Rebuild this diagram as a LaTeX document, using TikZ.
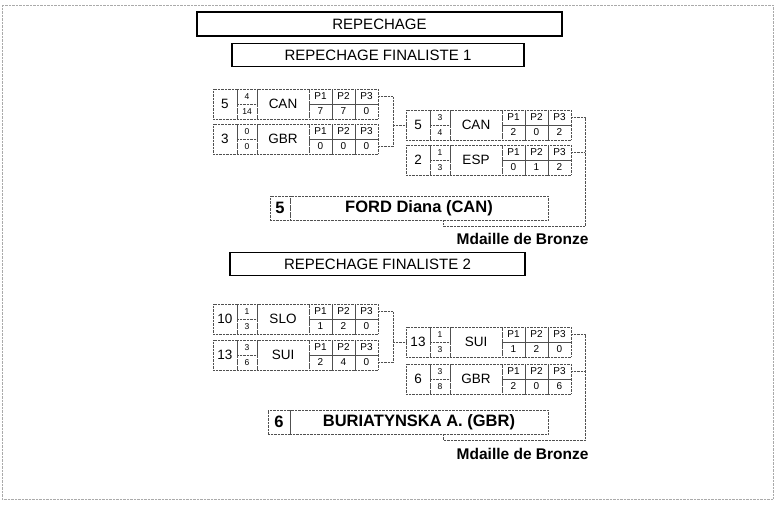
\documentclass[tikz,border=0pt]{standalone}
\usepackage{fontspec}
\setmainfont{Liberation Sans}
\usetikzlibrary{positioning,arrows.meta}
\definecolor{cellgray}{RGB}{80,80,80}
\definecolor{framegray}{RGB}{170,170,170}

\begin{document}
\begin{tikzpicture}[x=1pt,y=-1pt,
  title/.style={draw=black, line width=1.2pt, inner sep=0pt,
    font=\fontsize{15}{16}\selectfont},
  cell/.style={draw=cellgray, densely dotted, thin, inner sep=0pt,
    outer sep=0pt, anchor=north west, minimum height=30pt,
    font=\fontsize{13.5}{14}\selectfont},
  half/.style={cell, minimum height=15pt, minimum width=20pt,
    font=\fontsize{8.5}{9}\selectfont},
  phead/.style={cell, minimum height=15pt, minimum width=23pt,
    font=\fontsize{10}{11}\selectfont},
  pval/.style={cell, minimum height=15pt, minimum width=23pt,
    font=\fontsize{10}{11}\selectfont},
  winner/.style={cell, minimum height=24pt,
    font=\bfseries\fontsize{16.5}{17}\selectfont},
  link/.style={draw=cellgray, densely dotted, thin},
  medal/.style={font=\bfseries\fontsize{15.5}{16}\selectfont, anchor=east}
]
\useasboundingbox (0,0) rectangle (777,504);
% scanned sheet edge
\draw[framegray, densely dotted] (2,5) rectangle (773,499);

% Titles
\node[title, minimum width=365pt, minimum height=24pt] (t0) at (379.5,24)
  {REPECHAGE};
\node[title, minimum width=292pt, minimum height=23pt] (t1) at (378,55)
  {REPECHAGE FINALISTE 1};
\node[title, minimum width=295pt, minimum height=23pt] (t2) at (377.5,264)
  {REPECHAGE FINALISTE 2};

% Match rows
\foreach \r/\x/\y/\s/\ft/\fb/\c/\pa/\pb/\pc in {
  a1/213/89/5/4/14/CAN/7/7/0,
  a2/213/124/3/0/0/GBR/0/0/0,
  a3/406/110/5/3/4/CAN/2/0/2,
  a4/406/145/2/1/3/ESP/0/1/2,
  b1/213/304/10/1/3/SLO/1/2/0,
  b2/213/340/13/3/6/SUI/2/4/0,
  b3/406/327/13/1/3/SUI/1/2/0,
  b4/406/364/6/3/8/GBR/2/0/6}{
  \node[cell, minimum width=24pt] (\r-s) at (\x,\y) {\s};
  \node[half] (\r-ft) at (\x+24,\y) {\ft};
  \node[half] (\r-fb) at (\x+24,\y+15) {\fb};
  \node[cell, minimum width=52pt] (\r-n) at (\x+44,\y) {\c};
  \node[phead] (\r-h1) at (\x+96,\y) {P1};
  \node[phead] (\r-h2) at (\x+119,\y) {P2};
  \node[phead] (\r-h3) at (\x+142,\y) {P3};
  \node[pval] (\r-v1) at (\x+96,\y+15) {\pa};
  \node[pval] (\r-v2) at (\x+119,\y+15) {\pb};
  \node[pval] (\r-v3) at (\x+142,\y+15) {\pc};
}

% Winners
\node[winner, minimum width=20pt] (f1-s) at (270,196) {5};
\node[winner, minimum width=258pt] (f1-n) at (290,196) {FORD Diana (CAN)};
\node[winner, minimum width=22pt] (f2-s) at (268,410) {6};
\node[winner, minimum width=258pt] (f2-n) at (290,410)
  {BURIATYNSKA A. (GBR)};

\node[medal] (m1) at (592,239) {Mdaille de Bronze};
\node[medal] (m2) at (592,454) {Mdaille de Bronze};

% Brackets, finalist 1
\coordinate (j1) at (393,125);
\coordinate (k1) at (585,226);
\coordinate (k2) at (443,226);
\draw[link] (a1-h3.east) -| (j1);
\draw[link] (a2-v3.east) -| (j1);
\draw[link] (j1) -- (a3-s.west);
\draw[link] (a3-h3.east) -| (k1) -- (k2) -- (k2 |- f1-n.south);
\draw[link] (a4-h3.east) -- (a4-h3.east -| k1);

% Brackets, finalist 2
\coordinate (j2) at (393,342);
\coordinate (k3) at (585,440);
\coordinate (k4) at (443,440);
\draw[link] (b1-h3.east) -| (j2);
\draw[link] (b2-v3.east) -| (j2);
\draw[link] (j2) -- (b3-s.west);
\draw[link] (b3-h3.east) -| (k3) -- (k4) -- (k4 |- f2-n.south);
\draw[link] (b4-h3.east) -- (b4-h3.east -| k3);
\end{tikzpicture}
\end{document}
